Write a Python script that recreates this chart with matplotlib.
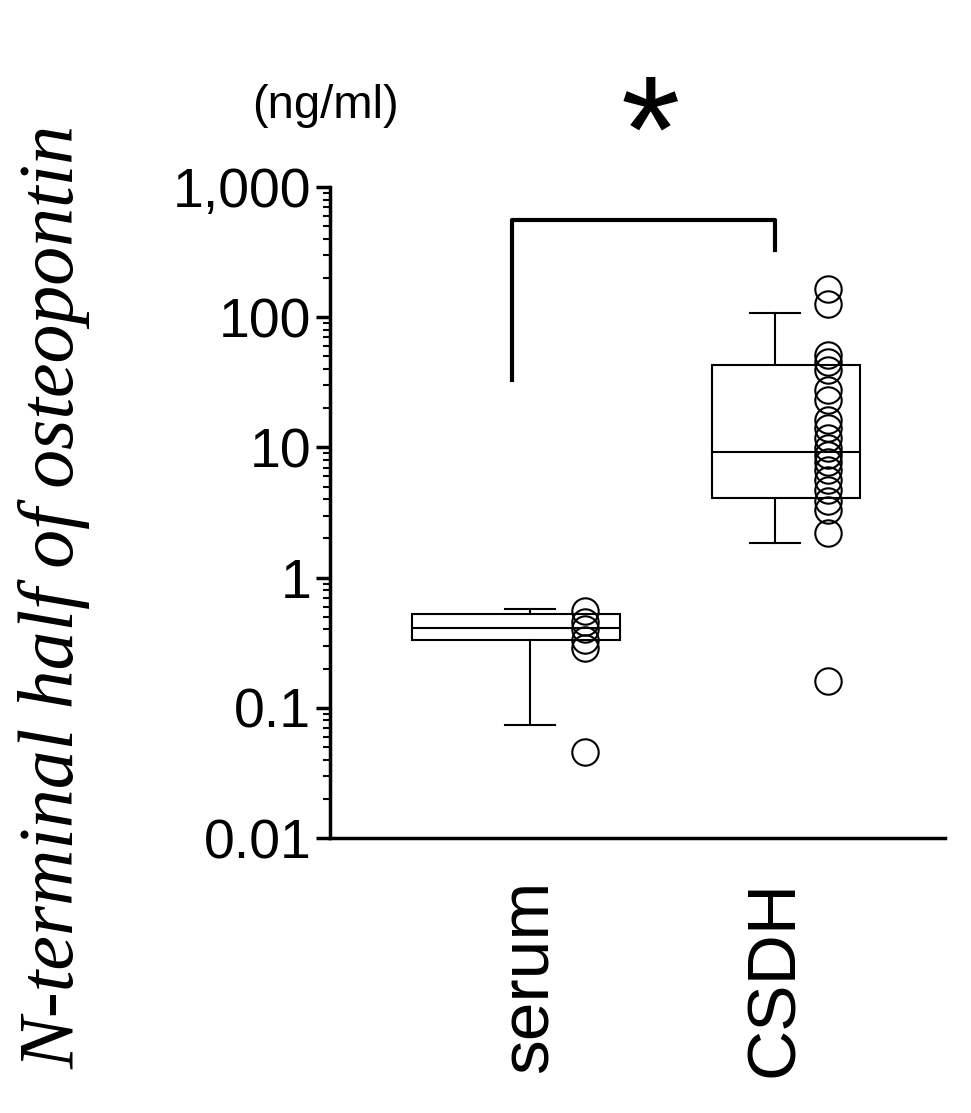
import matplotlib
matplotlib.use("Agg")
from matplotlib import pyplot as plt
from matplotlib.patches import Rectangle
import numpy as np

categories = ["serum", "CSDH"]
# box stats: whisker low, q1, median, q3, whisker high
serum_box = [0.074, 0.33, 0.41, 0.53, 0.57]
csdh_box = [1.85, 4.1, 9.2, 43, 108]
serum_points = [0.55, 0.46, 0.40, 0.33, 0.29, 0.046]
csdh_points = [165, 126, 51, 45, 39, 27.6, 23, 16.2, 14.1, 11.8, 9.9, 8.7,
               7.7, 6.7, 5.6, 4.7, 3.9, 3.3, 2.2, 0.16]
yticks = [0.01, 0.1, 1, 10, 100, 1000]
ytick_labels = ["0.01", "0.1", "1", "10", "100", "1,000"]

plt.rcParams["font.family"] = ["Liberation Sans", "DejaVu Sans"]
fig = plt.figure(figsize=(9.71, 11.13), dpi=100)
ax = fig.add_axes([0.34, 0.247, 0.633, 0.585])
ax.set_yscale("log")
ax.set_ylim(0.01, 1000)
ax.set_xlim(0, 6.15)

# x positions (whisker centre, box left, box right, points x)
groups = [(2.0, 0.82, 2.90, 2.55, serum_box, serum_points),
          (4.45, 3.82, 5.30, 4.98, csdh_box, csdh_points)]
for xc, bl, br, px, st, pts in groups:
    lo, q1, med, q3, hi = st
    ax.add_patch(Rectangle((bl, q1), br - bl, q3 - q1, fill=False, lw=1.5, ec="black", zorder=2))
    ax.plot([bl, br], [med, med], color="black", lw=1.5)
    ax.plot([xc, xc], [lo, q1], color="black", lw=1.5)
    ax.plot([xc, xc], [q3, hi], color="black", lw=1.5)
    ax.plot([xc - 0.25, xc + 0.25], [lo, lo], color="black", lw=1.5)
    ax.plot([xc - 0.25, xc + 0.25], [hi, hi], color="black", lw=1.5)
    ax.plot([px] * len(pts), pts, "o", ms=19, mfc="none", mec="black", mew=1.5, zorder=3)

# significance bracket
ax.plot([1.82, 1.82, 4.45, 4.45], [33, 560, 560, 330], color="black", lw=3, clip_on=False)
ax.text(3.2, 2200, "*", fontsize=110, ha="center", va="center", clip_on=False)

ax.spines["top"].set_visible(False)
ax.spines["right"].set_visible(False)
ax.spines["left"].set_linewidth(2.5)
ax.spines["bottom"].set_linewidth(2.5)
ax.set_yticks(yticks)
ax.set_yticklabels(ytick_labels, fontsize=40)
ax.tick_params(axis="y", which="major", length=10, width=2.5)
ax.tick_params(axis="y", which="minor", length=5, width=1.5)
ax.set_xticks([2.0, 4.45])
ax.set_xticklabels(categories, fontsize=50, rotation=90)
ax.tick_params(axis="x", length=0, pad=30)

ax.set_ylabel("N-terminal half of osteopontin", fontsize=56, style="italic",
              family=["Liberation Serif", "DejaVu Serif"])
ax.yaxis.set_label_coords(-0.39, 0.37)
fig.text(0.335, 0.905, "(ng/ml)", fontsize=34, ha="center", va="center")

fig.savefig("out.png", dpi=100)
